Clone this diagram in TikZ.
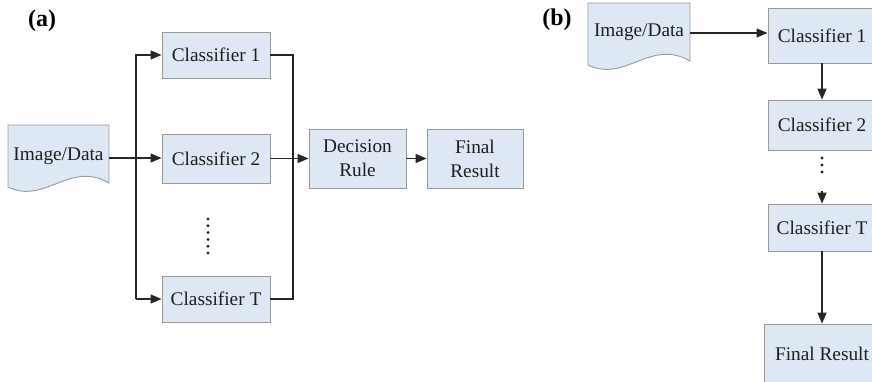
\documentclass[tikz,border=0pt]{standalone}
\usepackage{fontspec}
\setmainfont{Liberation Serif}
\usetikzlibrary{arrows.meta,calc}
\definecolor{boxfill}{HTML}{DEE8F4}
\definecolor{boxline}{HTML}{9A9A9A}
\definecolor{linec}{HTML}{262626}
\definecolor{txt}{HTML}{1E1E1E}
\newcommand\mydocshape[2]{%
  \draw[docshape, shift={#1}] (0,0) -- (#2,0) -- (#2,58)
    .. controls ({#2*0.61},35) and ({#2*0.37},80) .. (0,62) -- cycle;}
\begin{document}
\begin{tikzpicture}[x=1pt,y=-1pt,
  txtfont/.style={font=\fontsize{19.3}{24}\selectfont, text=txt},
  box/.style={draw=boxline, fill=boxfill, line width=0.9pt, inner sep=0pt, txtfont, align=center},
  docshape/.style={draw=boxline, fill=boxfill, line width=0.9pt},
  docnode/.style={inner sep=0pt, txtfont, minimum height=66pt},
  lab/.style={inner sep=0pt, font=\fontsize{24}{28}\selectfont\bfseries, text=black},
  conn/.style={line width=1.3pt, draw=linec},
  arr/.style={conn, -{Triangle[length=11pt,width=9pt]}}]
\useasboundingbox (0,0) rectangle (872,382);
\clip (0,0) rectangle (872,382);
% ---------- (a) ----------
\node[lab] (la) at (42,21) {(a)};
\mydocshape{(8,125)}{101}
\node[docnode, minimum width=101pt] (docA) at (58.5,158) {\raisebox{8pt}{Image/Data}};
\node[box, minimum width=108pt, minimum height=46pt] (c1a) at (216,55) {Classifier 1};
\node[box, minimum width=108pt, minimum height=49pt] (c2a) at (216,158.5) {Classifier 2};
\node[box, minimum width=108pt, minimum height=46pt] (cTa) at (216,299) {Classifier T};
\node[box, minimum width=97pt, minimum height=59pt] (dra) at (357.5,158.5) {Decision\\Rule};
\node[box, minimum width=96pt, minimum height=59pt] (fra) at (475,158.5) {Final\\Result};
\coordinate (busL) at (136,158);
\coordinate (busR) at (293,158.5);
\draw[arr] (docA.east) -- (docA.east -| c2a.west);
\draw[arr] (busL |- cTa.west) -- (cTa.west);
\draw[arr] (busL |- cTa.west) -- (busL |- c1a.west) -- (c1a.west);
\draw[conn] (c1a.east) -| (busR |- cTa.east) -- (cTa.east);
\draw[arr] (c2a.east) -- (dra.west);
\draw[arr] (dra) -- (fra);
\foreach \i in {0,...,5} \fill[linec] (208,{219+6.8*\i}) circle (1.6);
% ---------- (b) ----------
\node[lab] (lb) at (557,20) {(b)};
\mydocshape{(588,3)}{102}
\node[docnode, minimum width=102pt] (docB) at (639,33) {\raisebox{6pt}{Image/Data}};
\node[box, minimum width=108pt, minimum height=55pt] (c1b) at (822,35.5) {Classifier 1};
\node[box, minimum width=108pt, minimum height=50pt] (c2b) at (822,125) {Classifier 2};
\node[box, minimum width=108pt, minimum height=47pt] (cTb) at (822,227.5) {Classifier T};
\node[box, minimum width=116pt, minimum height=60pt] (frb) at (822,354) {Final Result};
\draw[arr] (docB.east) -- (docB.east -| c1b.west);
\draw[arr] (c1b) -- (c2b);
\foreach \i in {0,1,2} \fill[linec] (822,{158+7*\i}) circle (1.6);
\coordinate (dotend) at (822,191);
\draw[arr] (dotend) -- (cTb.north);
\draw[arr] (cTb) -- (frb);
\end{tikzpicture}
\end{document}
